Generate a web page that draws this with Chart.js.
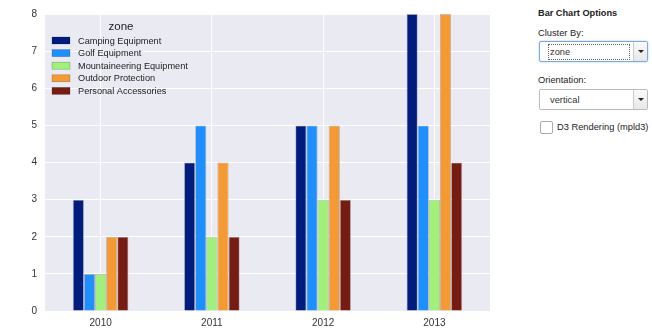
<!DOCTYPE html>
<html>
<head>
<meta charset="utf-8">
<script src="https://cdn.jsdelivr.net/npm/chart.js@4"></script>
<style>
  body { margin: 0; background: #fff; font-family: "Liberation Sans", Arial, sans-serif; }
  #wrap { position: absolute; left: 0; top: 0; width: 494px; height: 330px; }
  #panel { position: absolute; left: 538px; top: 0; width: 114px; font-size: 9.3px; color: #222; white-space: nowrap; }
  .title { position: absolute; top: 8px; left: 0; font-weight: bold; font-size: 9.2px; }
  .lbl { position: absolute; left: 0; font-size: 9.3px; }
  .sel { position: absolute; left: 1px; width: 109px; height: 21px; border: 1px solid #bbb; border-radius: 2px; background: #fff; box-sizing: border-box; }
  .sel .txt { position: absolute; left: 10px; top: 5px; font-size: 9.3px; color: #333; }
  .sel .btn { position: absolute; right: 0; top: 0; width: 13px; height: 19px; border-left: 1px solid #ccc; background: linear-gradient(#fafafa, #e8e8e8); }
  .sel .btn:after { content: ""; position: absolute; left: 4px; top: 8px; border-left: 3px solid transparent; border-right: 3px solid transparent; border-top: 3px solid #222; }
  .focus { border-color: #7aaae0; box-shadow: 0 0 2px #9cc2ef; }
  .focus .txt { border: 1px dotted #666; top: 2px; left: 8px; padding: 1px 1px; width: 78px; height: 12px; line-height: 12px; }
  .chk { position: absolute; left: 2px; top: 121px; width: 11px; height: 11px; border: 1px solid #aaa; border-radius: 2px; background: #fff; }
</style>
</head>
<body>
<div id="wrap"><canvas id="chart"></canvas></div>
<div id="panel">
  <div class="title">Bar Chart Options</div>
  <div class="lbl" style="top:28px">Cluster By:</div>
  <div class="sel focus" style="top:41px"><div class="txt">zone</div><div class="btn"></div></div>
  <div class="lbl" style="top:75px">Orientation:</div>
  <div class="sel" style="top:89px"><div class="txt">vertical</div><div class="btn"></div></div>
  <div class="chk"></div>
  <div class="lbl" style="top:122px; left:19px">D3 Rendering (mpld3)</div>
</div>
<script>
const years = ['2010', '2011', '2012', '2013'];
const zones = ['Camping Equipment', 'Golf Equipment', 'Mountaineering Equipment', 'Outdoor Protection', 'Personal Accessories'];
const camping = [3, 4, 5, 8];
const golf = [1, 5, 5, 5];
const mountaineering = [1, 2, 3, 3];
const outdoor = [2, 4, 5, 8];
const personal = [2, 2, 3, 4];
const colors = ['#001c7f', '#1e8ffe', '#a0f07a', '#f59a33', '#761c12'];
const yTicks = [0, 1, 2, 3, 4, 5, 6, 7, 8];

const series = [camping, golf, mountaineering, outdoor, personal];

// legend drawn inside the plot, top left, like matplotlib
const innerLegend = {
    id: 'innerLegend',
    afterDraw(chart) {
        const ctx = chart.ctx;
        const a = chart.chartArea;
        ctx.save();
        ctx.fillStyle = '#222';
        ctx.font = '11.5px "Liberation Sans", Arial, sans-serif';
        ctx.textAlign = 'center';
        ctx.textBaseline = 'middle';
        ctx.fillText('zone', a.left + 76, a.top + 13);
        ctx.font = '9.2px "Liberation Sans", Arial, sans-serif';
        ctx.textAlign = 'left';
        chart.data.datasets.forEach((ds, i) => {
            const y = a.top + 26 + i * 12.6;
            ctx.fillStyle = ds.backgroundColor;
            ctx.fillRect(a.left + 7, y - 3, 18, 7);
            ctx.strokeStyle = 'rgba(0,0,0,0.3)';
            ctx.lineWidth = 0.6;
            ctx.strokeRect(a.left + 7, y - 3, 18, 7);
            ctx.fillStyle = '#222';
            ctx.fillText(ds.label, a.left + 33, y + 1);
        });
        ctx.restore();
    }
};

const plotBg = {
    id: 'plotBg',
    beforeDraw(chart) {
        const a = chart.chartArea;
        chart.ctx.save();
        chart.ctx.fillStyle = '#eaeaf2';
        chart.ctx.fillRect(a.left, a.top, a.right - a.left, a.bottom - a.top);
        chart.ctx.restore();
    }
};

new Chart(document.getElementById('chart'), {
    type: 'bar',
    data: {
        labels: years,
        datasets: zones.map((z, i) => ({
            label: z,
            data: series[i],
            backgroundColor: colors[i],
            borderColor: 'rgba(60,60,60,0.35)',
            borderWidth: 0.8,
            categoryPercentage: 0.5,
            barPercentage: 1
        }))
    },
    options: {
        responsive: true,
        maintainAspectRatio: false,
        animation: false,
        layout: { padding: { top: 14, right: 4, left: 0, bottom: 0 } },
        scales: {
            x: {
                grid: { color: '#ffffff', offset: false, drawTicks: false, lineWidth: 1 },
                border: { display: false },
                ticks: { color: '#333', font: { size: 10, family: '"Liberation Sans", Arial, sans-serif' }, padding: 6 },
                afterFit: s => { s.height = 19; }
            },
            y: {
                min: 0,
                max: 8,
                afterBuildTicks: s => { s.ticks = yTicks.map(v => ({ value: v })); },
                grid: { color: '#ffffff', drawTicks: false, lineWidth: 1 },
                border: { display: false },
                ticks: { color: '#333', font: { size: 10, family: '"Liberation Sans", Arial, sans-serif' }, padding: 8 },
                afterFit: s => { s.width = 45; }
            }
        },
        plugins: {
            legend: { display: false },
            tooltip: { enabled: false }
        }
    },
    plugins: [plotBg, innerLegend]
});
</script>
</body>
</html>
